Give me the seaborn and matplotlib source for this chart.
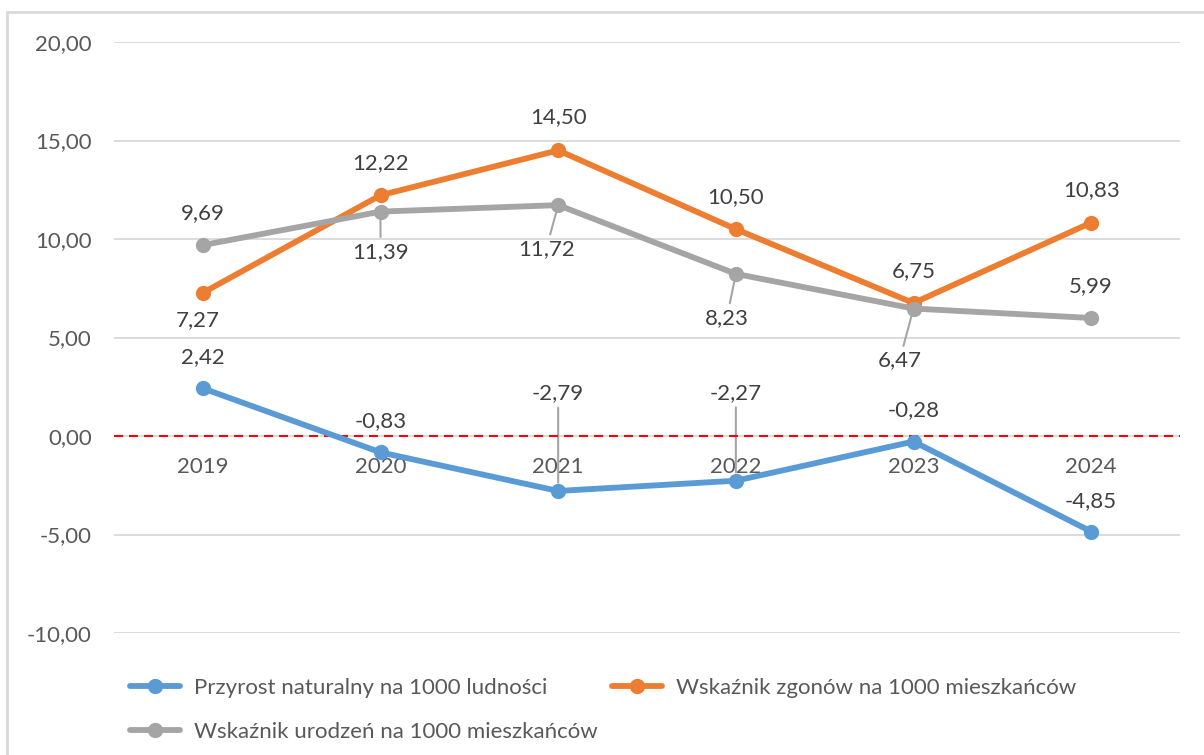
import matplotlib
matplotlib.use("Agg")
import matplotlib.pyplot as plt
from matplotlib.lines import Line2D
from matplotlib.ticker import FuncFormatter
import seaborn as sns

# dane
years = ["2019", "2020", "2021", "2022", "2023", "2024"]
przyrost = [2.42, -0.83, -2.79, -2.27, -0.28, -4.85]
zgony = [7.27, 12.22, 14.50, 10.50, 6.75, 10.83]
urodzenia = [9.69, 11.39, 11.72, 8.23, 6.47, 5.99]

names = ["Przyrost naturalny na 1000 ludności",
         "Wskaźnik zgonów na 1000 mieszkańców",
         "Wskaźnik urodzeń na 1000 mieszkańców"]
colors = ["#5B9BD5", "#ED7D31", "#A5A5A5"]

# przesuniecia etykiet danych (piksele)
przyrost_off = [(0, 31), (0, 31), (0, 98), (0, 88), (0, 31), (0, 30)]
zgony_off = [(-5, -27), (0, 32), (0, 33), (0, 32), (0, 32), (0, 33)]
urodzenia_off = [(0, 32), (0, -40), (-12, -44), (-9, -44), (-14, -52), (0, 32)]

sns.set_theme(style="white")
plt.rcParams["font.family"] = ["Lato", "DejaVu Sans"]

fig = plt.figure(figsize=(12.04, 7.55), dpi=100)
ax = fig.add_axes([114 / 1204, 1 - 633 / 755, (1180 - 114) / 1204, (633 - 42) / 755])

series = [przyrost, zgony, urodzenia]
offsets = [przyrost_off, zgony_off, urodzenia_off]

for vals, name, col in zip(series, names, colors):
    sns.lineplot(x=years, y=vals, ax=ax, color=col, linewidth=4.2, marker="o",
                 markersize=11, markeredgewidth=0, label=name, sort=False, zorder=4)

for vals, offs in zip(series, offsets):
    for i, (v, off) in enumerate(zip(vals, offs)):
        txt = f"{v:.2f}".replace(".", ",")
        arrow = None
        if abs(off[1]) > 35:
            arrow = dict(arrowstyle="-", color="#A5A5A5", lw=1.5, shrinkA=1, shrinkB=6)
        ax.annotate(txt, xy=(i, v), xytext=off, textcoords="offset pixels",
                    ha="center", va="center", fontsize=16, color="#404040",
                    arrowprops=arrow, zorder=3)

ax.axhline(0, color="red", linestyle="--", linewidth=1.5, dashes=(4.3, 2.9), zorder=3)

ax.set_xlim(-0.5, 5.5)
ax.set_ylim(-10, 20)
ax.set_yticks(range(-10, 25, 5))
ax.yaxis.set_major_formatter(FuncFormatter(lambda v, _: f"{v:.2f}".replace(".", ",")))
ax.grid(axis="y", color="#d9d9d9", linewidth=1.3, zorder=0)
ax.set_axisbelow(True)
for s in ["left", "right", "top"]:
    ax.spines[s].set_visible(False)
ax.spines["bottom"].set_position(("data", 0))
ax.spines["bottom"].set_visible(False)
ax.tick_params(axis="x", length=0, pad=15, labelsize=16, labelcolor="#595959")
ax.tick_params(axis="y", length=0, pad=16, labelsize=16, labelcolor="#595959")
ax.set_xlabel("")
ax.set_ylabel("")

h, l = ax.get_legend_handles_labels()
order = [0, 2, 1]
ax.legend([h[k] for k in order], [l[k] for k in order], ncol=2, loc="upper left",
          bbox_to_anchor=(130 / 1204, 1 - 678 / 755), bbox_transform=fig.transFigure,
          frameon=False, borderpad=0, borderaxespad=0, handlelength=2.25,
          handletextpad=0.65, columnspacing=0.6, labelspacing=1.08, fontsize=16,
          labelcolor="#595959")

# ramka wykresu
fig.add_artist(Line2D([7 / 1204, 7 / 1204], [0, 1 - 12 / 755], transform=fig.transFigure,
                      color="#d9d9d9", linewidth=2))
fig.add_artist(Line2D([7 / 1204, 1], [1 - 12 / 755, 1 - 12 / 755], transform=fig.transFigure,
                      color="#d9d9d9", linewidth=2))

fig.savefig("out.png", dpi=100)
